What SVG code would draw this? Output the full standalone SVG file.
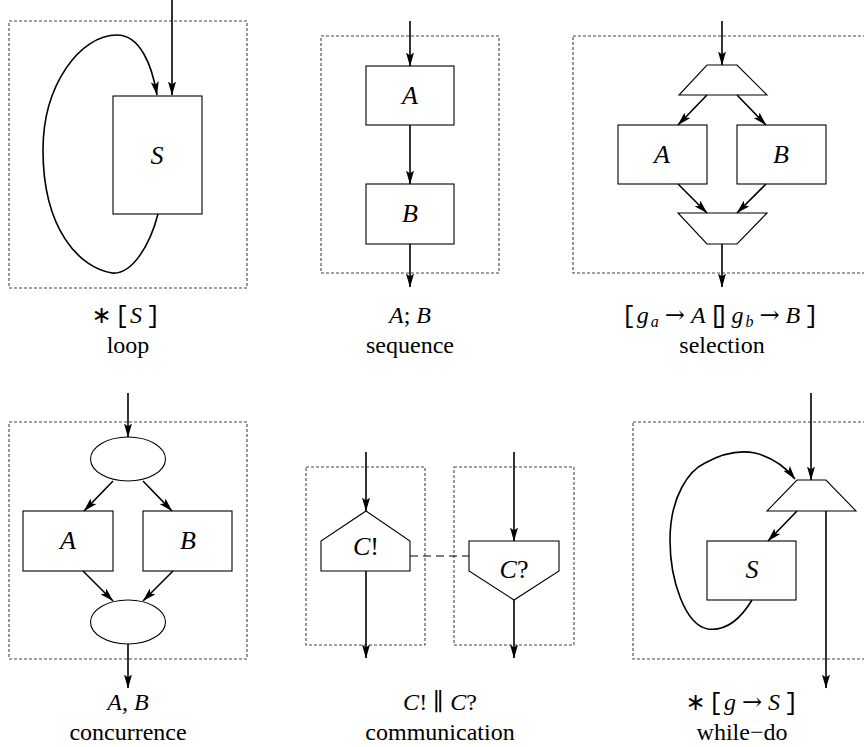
<svg xmlns="http://www.w3.org/2000/svg" width="864" height="747" viewBox="0 0 864 747">
<defs>
<style>
.frame{fill:none;stroke:#444;stroke-width:1.1;stroke-dasharray:3,2}
.box{fill:#fff;stroke:#000;stroke-width:1.1}
.con{fill:none;stroke:#000;stroke-width:1.6;marker-end:url(#ah)}
.dash{fill:none;stroke:#000;stroke-width:1.2;stroke-dasharray:8,5}
text{font-family:'Liberation Serif','Times New Roman','DejaVu Serif',serif;font-size:26px;fill:#000}
.lbl{font-size:24px}
.m{font-style:italic}
.tt{font-family:'Liberation Mono','Courier New','DejaVu Sans Mono',monospace;font-style:normal}
.ast{font-family:'DejaVu Sans',sans-serif;font-style:normal}
.ar{font-family:'DejaVu Serif',serif;font-style:normal}
.sub{font-size:16px;font-style:italic}
</style>
<marker id="ah" markerUnits="userSpaceOnUse" viewBox="0 0 14 8" markerWidth="14" markerHeight="8" refX="13.5" refY="4" orient="auto">
<path d="M0,0 L14,4 L0,8 L3,4 z" fill="#000"/>
</marker>
</defs>
<rect width="864" height="747" fill="#fff"/>

<g id="frames">
<rect id="frame-loop" class="frame" x="9" y="21" width="238" height="267"/>
<rect id="frame-seq" class="frame" x="321" y="36" width="178" height="237"/>
<rect id="frame-sel" class="frame" x="573" y="36" width="295" height="237"/>
<rect id="frame-conc" class="frame" x="9" y="422" width="238" height="237"/>
<rect id="frame-send" class="frame" x="306" y="467" width="119" height="178"/>
<rect id="frame-recv" class="frame" x="454" y="467" width="120" height="178"/>
<rect id="frame-while" class="frame" x="633" y="422" width="235" height="237"/>
</g>

<g id="nodes">
<g id="loop-S"><rect class="box" x="113" y="96" width="89" height="118"/><text class="m" x="157" y="164" text-anchor="middle">S</text></g>
<g id="seq-A"><rect class="box" x="366" y="66" width="88" height="59"/><text class="m" x="410" y="104" text-anchor="middle">A</text></g>
<g id="seq-B"><rect class="box" x="366" y="184" width="88" height="60"/><text class="m" x="410" y="222" text-anchor="middle">B</text></g>
<g id="sel-split"><polygon class="box" points="707,65 737,65 767,95 679,95"/></g>
<g id="sel-A"><rect class="box" x="618" y="125" width="89" height="59"/><text class="m" x="662" y="163" text-anchor="middle">A</text></g>
<g id="sel-B"><rect class="box" x="737" y="125" width="89" height="59"/><text class="m" x="781" y="163" text-anchor="middle">B</text></g>
<g id="sel-join"><polygon class="box" points="678,213 767,213 737,244 707,244"/></g>
<g id="conc-fork"><ellipse class="box" cx="128" cy="459" rx="37.5" ry="22"/></g>
<g id="conc-A"><rect class="box" x="23" y="511" width="90" height="60"/><text class="m" x="68" y="549" text-anchor="middle">A</text></g>
<g id="conc-B"><rect class="box" x="143" y="511" width="89" height="60"/><text class="m" x="188" y="549" text-anchor="middle">B</text></g>
<g id="conc-join"><ellipse class="box" cx="128" cy="622" rx="37.5" ry="22"/></g>
<g id="send"><polygon class="box" points="366,511 410,541 410,571 321,571 321,541"/><text x="366" y="555" text-anchor="middle"><tspan class="m">C</tspan>!</text></g>
<g id="recv"><polygon class="box" points="469,541 559,541 559,571 514,600 469,571"/><text x="514" y="578" text-anchor="middle"><tspan class="m">C</tspan>?</text></g>
<g id="while-guard"><polygon class="box" points="797,480 826,480 856,511 767,511"/></g>
<g id="while-S"><rect class="box" x="707" y="541" width="89" height="59"/><text class="m" x="752" y="578" text-anchor="middle">S</text></g>
</g>

<g id="connectors">
<path class="con" d="M172,0 L172,95"/>
<path class="con" d="M158,214 C150,245 132,275 112,273 C80,268 43,230 43,150 C43,85 80,35 117,35 C140,35 152,65 157,95"/>
<path class="con" d="M410,21 L410,66"/>
<path class="con" d="M410,125 L410,184"/>
<path class="con" d="M410,244 L410,287"/>
<path class="con" d="M722,21 L722,65"/>
<path class="con" d="M707,95 L678,125"/>
<path class="con" d="M737,95 L766,125"/>
<path class="con" d="M678,184 L707,213"/>
<path class="con" d="M766,184 L737,213"/>
<path class="con" d="M722,244 L722,287"/>
<path class="con" d="M128,393 L128,437"/>
<path class="con" d="M113,481 L84,511"/>
<path class="con" d="M143,481 L172,511"/>
<path class="con" d="M83,571 L113,601"/>
<path class="con" d="M173,571 L143,601"/>
<path class="con" d="M128,644 L128,688"/>
<path class="con" d="M366,452 L366,511"/>
<path class="con" d="M366,571 L366,658"/>
<path class="con" d="M514,452 L514,541"/>
<path class="con" d="M514,600 L514,658"/>
<path class="dash" d="M410,556 L469,556"/>
<path class="con" d="M811,393 L811,480"/>
<path class="con" d="M797,511 L768,541"/>
<path class="con" d="M826,511 L826,688"/>
<path class="con" d="M752,600 C740,620 725,631 708,629 C685,625 670,580 670,540 C670,495 690,470 705,463 C725,452 740,450 755,453 C775,458 788,470 795,479"/>
</g>

<g id="labels">
<text class="lbl" x="126" y="323" text-anchor="middle"><tspan class="ast">∗</tspan><tspan class="tt" dx="3">[</tspan><tspan class="m" dx="1">S</tspan><tspan class="tt" dx="4">]</tspan></text>
<text class="lbl" x="128" y="353" text-anchor="middle">loop</text>
<text class="lbl" x="410" y="323" text-anchor="middle"><tspan class="m">A</tspan>; <tspan class="m">B</tspan></text>
<text class="lbl" x="410" y="353" text-anchor="middle">sequence</text>
<text class="lbl" x="720" y="323" text-anchor="middle"><tspan class="tt">[</tspan><tspan class="m" dx="1">g</tspan><tspan class="sub" dy="4" dx="2">a</tspan><tspan class="ar" dy="-4" dx="6">→</tspan><tspan class="m" dx="6">A</tspan><tspan class="tt" letter-spacing="-10" dx="4">[]</tspan><tspan class="m" dx="13">g</tspan><tspan class="sub" dy="4" dx="2">b</tspan><tspan class="ar" dy="-4" dx="6">→</tspan><tspan class="m" dx="6">B</tspan><tspan class="tt" dx="4">]</tspan></text>
<text class="lbl" x="722" y="353" text-anchor="middle">selection</text>
<text class="lbl" x="128" y="710" text-anchor="middle"><tspan class="m">A</tspan>, <tspan class="m">B</tspan></text>
<text class="lbl" x="128" y="740" text-anchor="middle">concurrence</text>
<text class="lbl" x="440" y="710" text-anchor="middle"><tspan class="m">C</tspan>! ∥ <tspan class="m">C</tspan>?</text>
<text class="lbl" x="440" y="740" text-anchor="middle">communication</text>
<text class="lbl" x="742" y="710" text-anchor="middle"><tspan class="ast">∗</tspan><tspan class="tt" dx="3">[</tspan><tspan class="m" dx="1">g</tspan><tspan class="ar" dx="6">→</tspan><tspan class="m" dx="6">S</tspan><tspan class="tt" dx="4">]</tspan></text>
<text class="lbl" x="742" y="740" text-anchor="middle">while−do</text>
</g>
</svg>
